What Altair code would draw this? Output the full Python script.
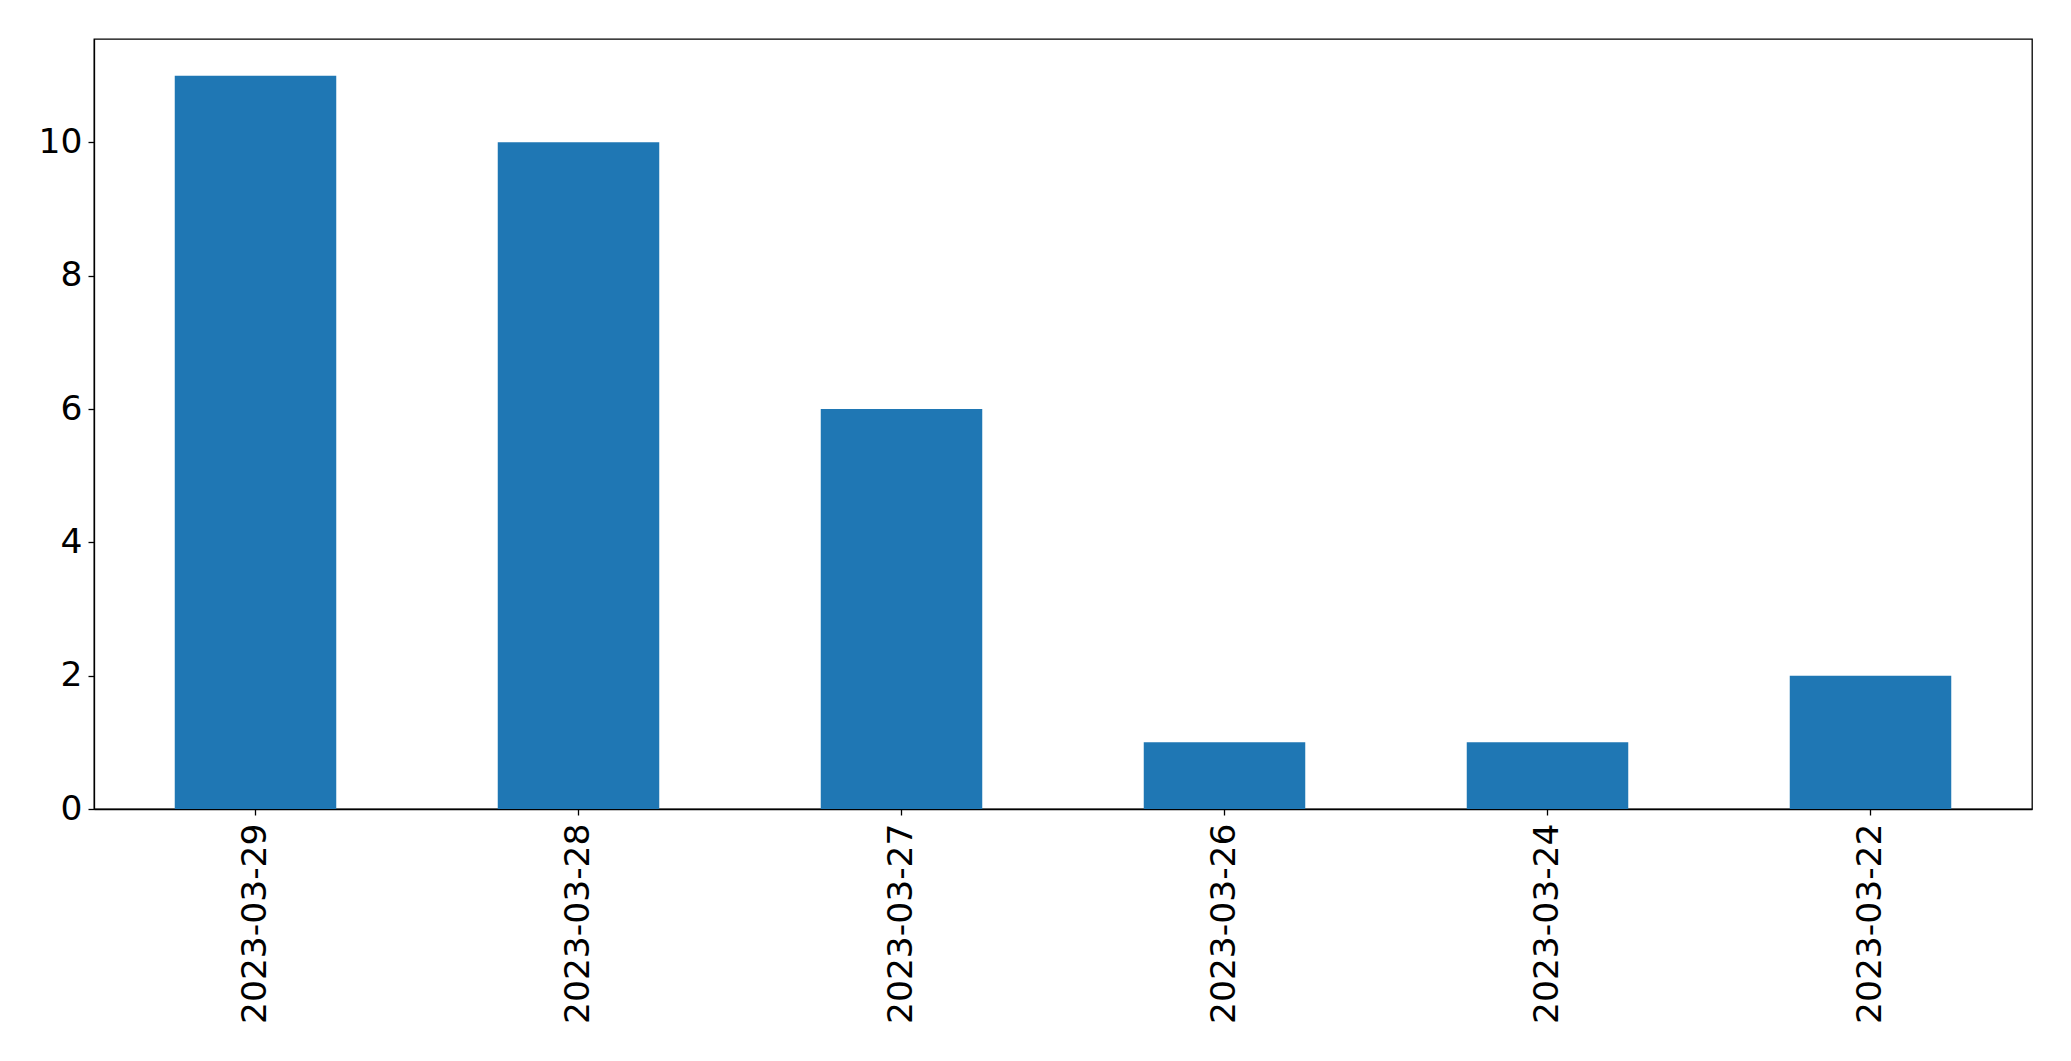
import altair as alt
import pandas as pd

dates = ["2023-03-29", "2023-03-28", "2023-03-27", "2023-03-26", "2023-03-24", "2023-03-22"]
counts = [11, 10, 6, 1, 1, 2]

df = pd.DataFrame({"date": dates, "count": counts})

font = "DejaVu Sans"

chart = alt.Chart(df).mark_bar(color="#1f77b4").encode(
    x=alt.X("date:N", sort=dates, title=None,
            scale=alt.Scale(paddingInner=0.5, paddingOuter=0.25),
            axis=alt.Axis(labelAngle=270, labelAlign="right", labelBaseline="middle",
                          labelFont=font, labelFontSize=34.5, labelColor="black",
                          labelLimit=0, labelOverlap=False,
                          labelPadding=8, tickSize=6, tickWidth=1.3, tickColor="black",
                          domainColor="black", domainWidth=1.3)),
    y=alt.Y("count:Q", title=None,
            scale=alt.Scale(domain=[0, 11.55], nice=False, zero=True),
            axis=alt.Axis(values=[0, 2, 4, 6, 8, 10], labelFont=font, labelFontSize=34.5,
                          labelColor="black", labelPadding=6, tickSize=6, tickWidth=1.3,
                          tickColor="black", domainColor="black", domainWidth=1.3,
                          grid=False)),
).properties(
    width=1938,
    height=770,
    autosize=alt.AutoSizeParams(type="none"),
    padding={"left": 86, "top": 31, "right": 30, "bottom": 230},
    background="white",
).configure_view(
    stroke="black",
    strokeWidth=1.3,
)

chart.save("out.html", embed_options={"renderer": "svg", "actions": False})
